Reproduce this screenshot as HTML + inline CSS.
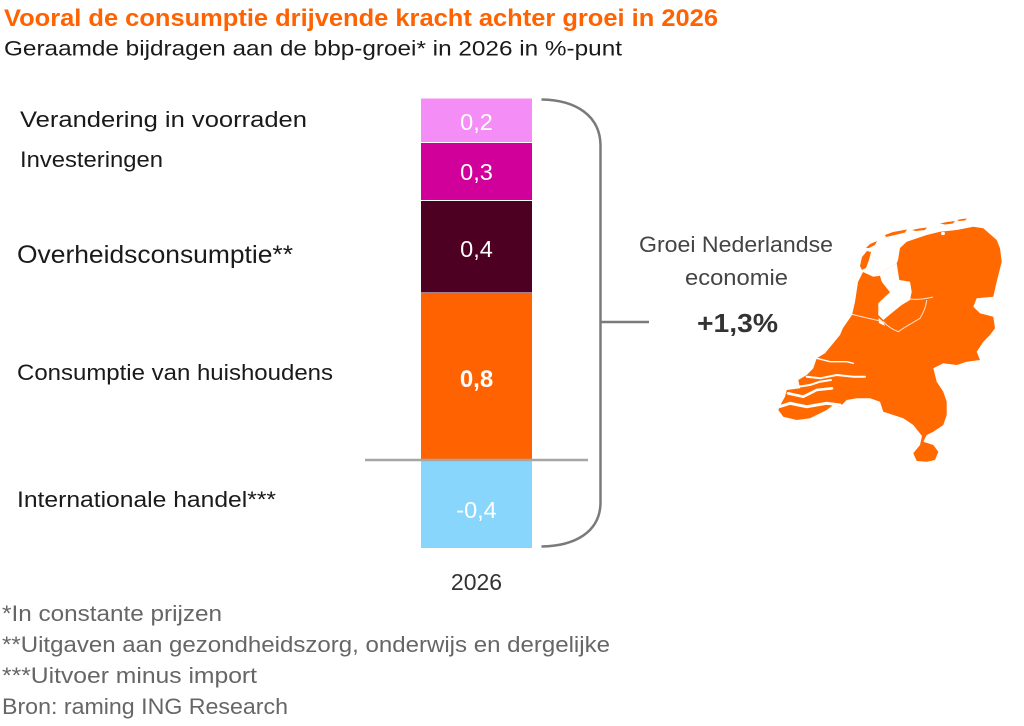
<!DOCTYPE html>
<html>
<head>
<meta charset="utf-8">
<style>
  html, body { margin:0; padding:0; background:#ffffff; }
  svg { display:block; }
  text { font-family: "Liberation Sans", "DejaVu Sans", sans-serif; }
</style>
</head>
<body>
<svg width="1024" height="726" viewBox="0 0 1024 726" xmlns="http://www.w3.org/2000/svg">
  <rect x="0" y="0" width="1024" height="726" fill="#ffffff"/>

  <!-- Title & subtitle -->
  <text x="4" y="26" font-size="24" font-weight="bold" fill="#FF6200" textLength="714" lengthAdjust="spacingAndGlyphs">Vooral de consumptie drijvende kracht achter groei in 2026</text>
  <text x="4" y="55.5" font-size="21" fill="#1a1a1a" textLength="618" lengthAdjust="spacingAndGlyphs">Geraamde bijdragen aan de bbp-groei* in 2026 in %-punt</text>

  <!-- Category labels -->
  <text x="20" y="127" font-size="22.5" fill="#1a1a1a" textLength="287" lengthAdjust="spacingAndGlyphs">Verandering in voorraden</text>
  <text x="20" y="167" font-size="22.5" fill="#1a1a1a" textLength="143" lengthAdjust="spacingAndGlyphs">Investeringen</text>
  <text x="17" y="263" font-size="25" fill="#1a1a1a" textLength="276" lengthAdjust="spacingAndGlyphs">Overheidsconsumptie**</text>
  <text x="17" y="380" font-size="22.5" fill="#1a1a1a" textLength="316" lengthAdjust="spacingAndGlyphs">Consumptie van huishoudens</text>
  <text x="17" y="507" font-size="22.5" fill="#1a1a1a" textLength="259" lengthAdjust="spacingAndGlyphs">Internationale handel***</text>

  <!-- Stacked bar -->
  <rect x="421" y="98.5" width="111" height="43.5" fill="#F48EF6"/>
  <rect x="421" y="143" width="111" height="57" fill="#D1009B"/>
  <rect x="421" y="201" width="111" height="91.5" fill="#4D0021"/>
  <rect x="421" y="293" width="111" height="166.5" fill="#FF6200"/>
  <rect x="421" y="460" width="111" height="88" fill="#89D6FD"/>

  <!-- zero line -->
  <line x1="365" y1="460" x2="588" y2="460" stroke="#a6a6a6" stroke-width="2.5"/>

  <!-- Bar values -->
  <text x="476.5" y="130" font-size="23.5" fill="#ffffff" text-anchor="middle">0,2</text>
  <text x="476.5" y="180" font-size="23.5" fill="#ffffff" text-anchor="middle">0,3</text>
  <text x="476.5" y="257" font-size="23.5" fill="#ffffff" text-anchor="middle">0,4</text>
  <text x="476.5" y="387" font-size="24" font-weight="bold" fill="#ffffff" text-anchor="middle">0,8</text>
  <text x="476.5" y="518" font-size="23.5" fill="#ffffff" text-anchor="middle">-0,4</text>

  <text x="476.5" y="590" font-size="23" fill="#333333" text-anchor="middle">2026</text>

  <!-- Bracket -->
  <path d="M541.5,99.5 C575,100 600,115 600.5,145 L600.5,503 C600,532 575,546 541.5,546.5" fill="none" stroke="#7a7a7a" stroke-width="2.5"/>
  <line x1="601" y1="322" x2="649" y2="322" stroke="#7a7a7a" stroke-width="2.5"/>

  <!-- Growth text -->
  <text x="736" y="252" font-size="22" fill="#444444" text-anchor="middle" textLength="194" lengthAdjust="spacingAndGlyphs">Groei Nederlandse</text>
  <text x="736.5" y="285" font-size="22" fill="#444444" text-anchor="middle" textLength="103" lengthAdjust="spacingAndGlyphs">economie</text>
  <text x="737.5" y="332" font-size="26" font-weight="bold" fill="#333333" text-anchor="middle" textLength="81" lengthAdjust="spacingAndGlyphs">+1,3%</text>

  <!-- Map of the Netherlands -->
  <g fill="#FF6900">
    <polygon points="863,272 873.3,276.7 896.7,263.3 898,260 900,248 906.7,241.7 926.7,235 940,231.7 956.7,230 973.3,226.7 983.3,228.3 996.7,240 1000,248.3 1001.7,261.7 996.7,281.7 993.3,296.7 976.7,298.3 973.3,306.7 980,313.3 993.3,316.7 995,328.3 990,335 983.3,341.7 976.7,351.7 980,360 966.7,361.7 956.7,365 943.3,363.3 933.3,368.3 936.7,381.7 943.3,391.7 946.7,401.7 946.7,415 943.3,425 933.3,431.7 926.7,435 923.3,441.7 933.3,445 938.3,451.7 935,460 926.7,461.7 916.7,461 913.3,453.3 920,445 922,436 913.3,425 903.3,418.3 893.3,415 883.3,411.7 880,401.7 870,398.3 856.7,398.3 846.7,400 840,406.7 833.3,405 826.7,410 810,418.3 796.7,420 783.3,416.7 778.3,410 782,402 785,396.7 786.7,390 800,388.3 798.3,380 806.7,375 813.3,368.3 816.7,358.3 825,353.3 840,335 843,328 852,315 855,302 858,282"/>
    <!-- Wadden islands -->
    <polygon points="860,266 862,257 867,251 871,252 869,260 866,268 862,270"/>
    <polygon points="866,248 870,244 877,241 875,245 869,248"/>
    <polygon points="885,235 893,232 907,229.5 905,232.5 893,235.5 886,237"/>
    <polygon points="912,230 919,228.5 927,227.5 925,230 916,231"/>
    <polygon points="940,223.5 947,222 955,221 953,223.5 945,224.5"/>
    <polygon points="957,220 962,219 967,218.5 965,220.5 959,221"/>
  </g>
  <!-- IJsselmeer / Markermeer -->
  <polygon fill="#ffffff" points="873.3,276.7 896.7,263.3 899.3,280 910,281.7 911.7,291.7 910,300 901.7,305 893.3,311.7 883.3,320 878.3,315 878.3,303.3 885,296.7 890,292.3 881.7,281.7 880,275.7"/>
  <polygon fill="#ffffff" points="883.3,321.7 878.5,318 879,323 885,326"/>
  <ellipse cx="943" cy="233.5" rx="2" ry="1.6" fill="#ffffff"/>
  <!-- Flevoland borders / canals (thin lines) -->
  <g fill="none" stroke="#ffe2cf" stroke-width="1">
    <path d="M910,299 C917,300 925,299 933,297"/>
    <path d="M926.7,300 C926,306 924,312 920,318.3 C914,322 906,326 898.3,331.7 C894,330 888,327 883.3,321.7"/>
    <path d="M851,314 C862,317 872,319 884,322"/>
  </g>
  <!-- Zeeland / delta channels -->
  <g fill="none" stroke="#ffffff" stroke-linecap="round">
    <path d="M780,406.5 L790,403.3 L806.7,406.7 L826.7,403.3 L840,405" stroke-width="3"/>
    <path d="M788,393.3 L803.3,396.7 L816.7,390 L832,388.3" stroke-width="2.6"/>
    <path d="M798,386.7 L810,385 L820,381.7 L831,380" stroke-width="2"/>
    <path d="M806.7,376.7 L820,378.3 L836.7,375 L853.3,376.7 L865,376.7" stroke-width="2"/>
    <path d="M816.7,358.3 L830,361.7 L846.7,361.7 L853.3,363.3" stroke-width="1.4"/>
  </g>

  <!-- Footnotes -->
  <text x="2" y="621" font-size="22" fill="#666666" textLength="220" lengthAdjust="spacingAndGlyphs">*In constante prijzen</text>
  <text x="2" y="652" font-size="22" fill="#666666" textLength="608" lengthAdjust="spacingAndGlyphs">**Uitgaven aan gezondheidszorg, onderwijs en dergelijke</text>
  <text x="2" y="683" font-size="22" fill="#666666" textLength="255" lengthAdjust="spacingAndGlyphs">***Uitvoer minus import</text>
  <text x="2" y="714" font-size="22" fill="#666666" textLength="286" lengthAdjust="spacingAndGlyphs">Bron: raming ING Research</text>
</svg>
</body>
</html>
